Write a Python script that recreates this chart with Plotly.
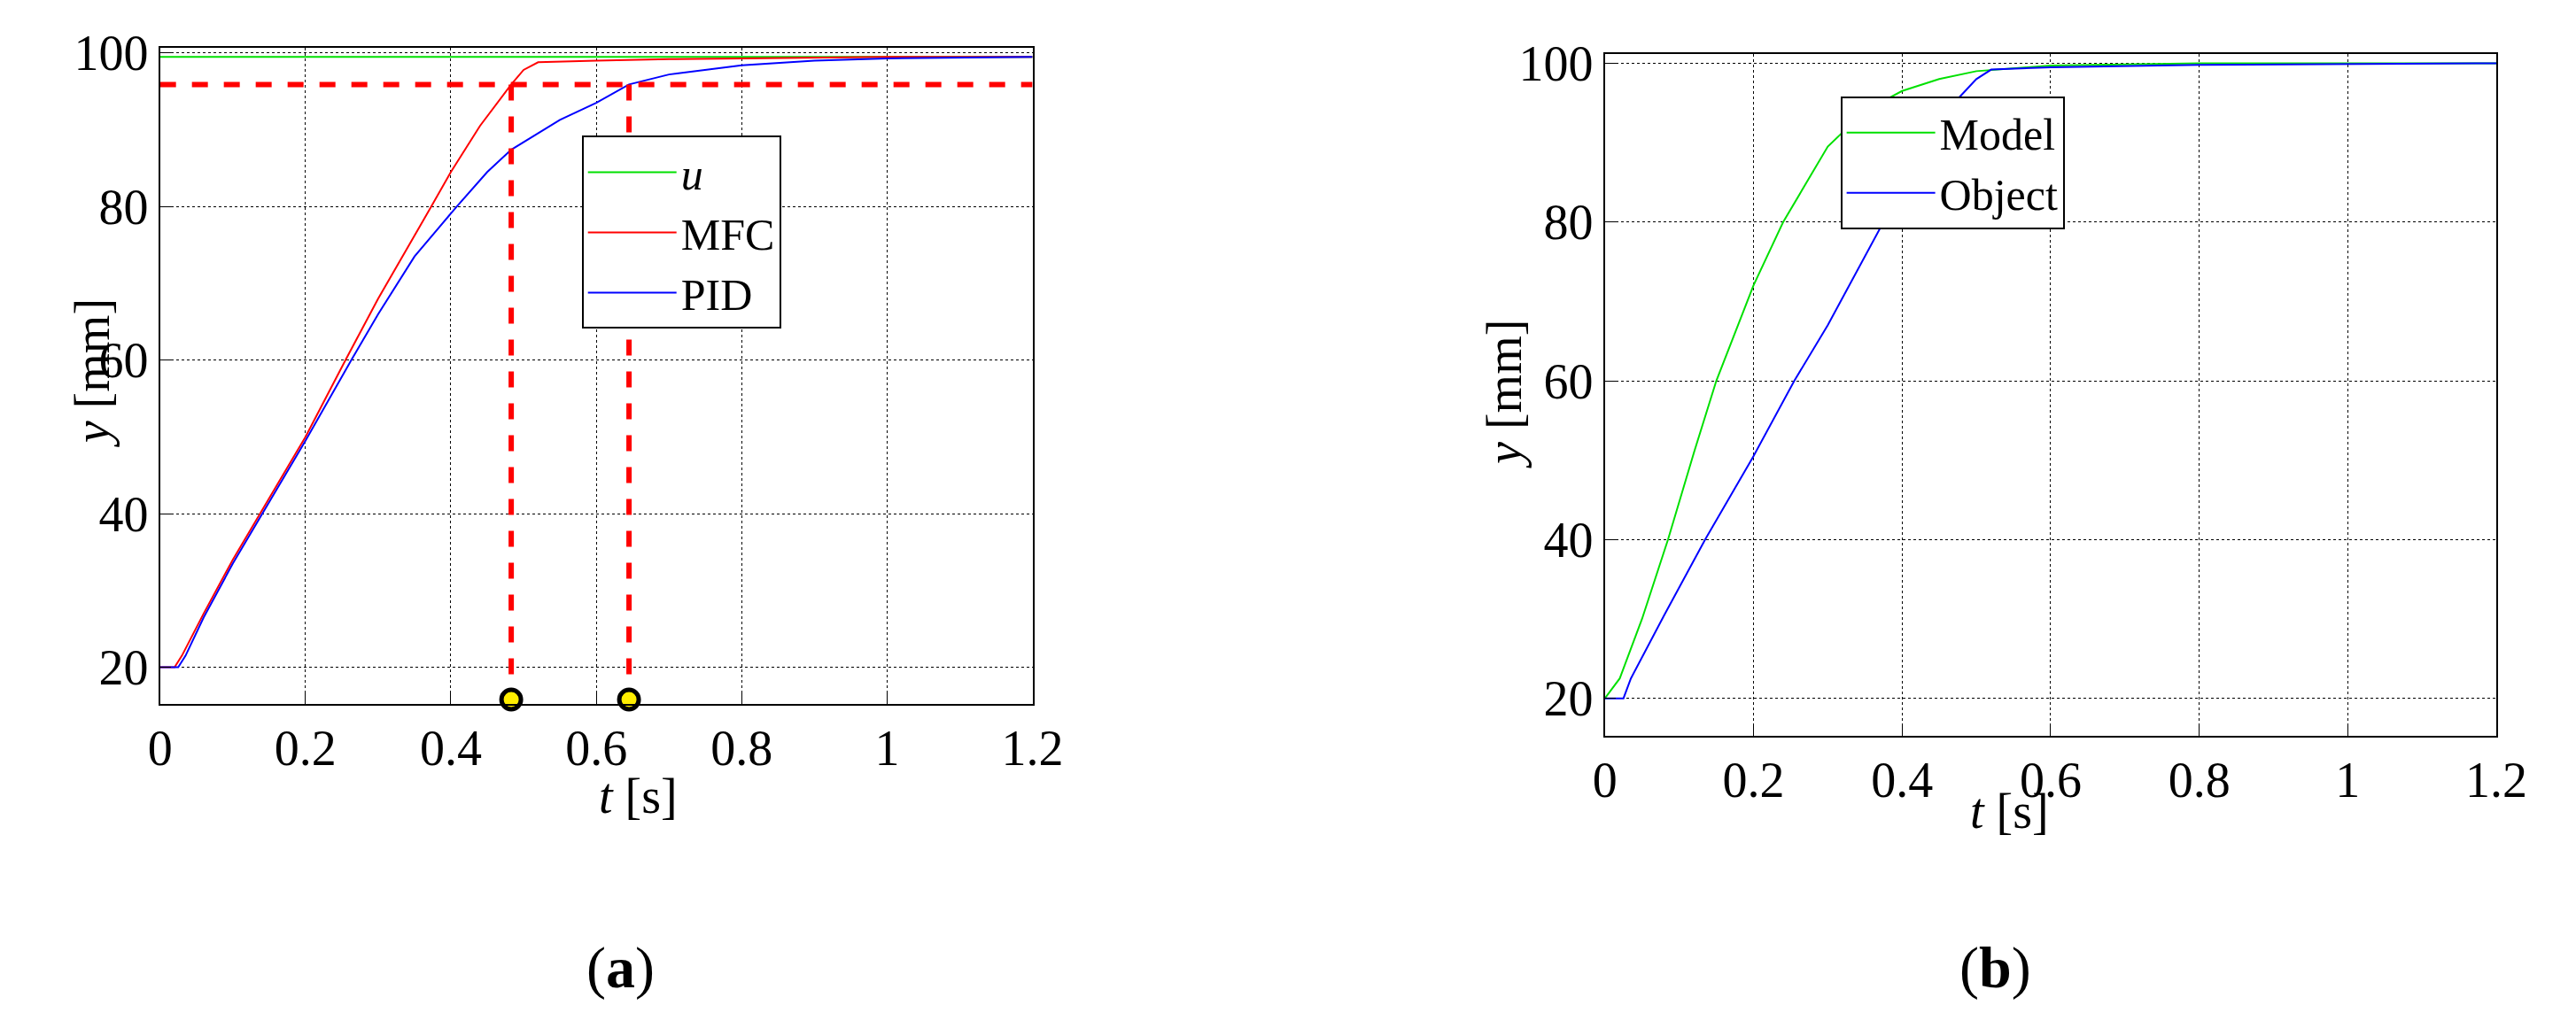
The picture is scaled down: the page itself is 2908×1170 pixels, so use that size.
import plotly.graph_objects as go

# Panel (a) data
t_u = [0.0, 1.2]
u_vals = [99.5, 99.5]
t_mfc = [0.0, 0.02, 0.03, 0.06, 0.1, 0.15, 0.2, 0.255, 0.3, 0.373, 0.4, 0.44, 0.483, 0.5, 0.52, 0.6, 0.7, 0.8, 1.0, 1.2]
y_mfc = [20, 20, 21.5, 27, 34, 42, 50, 60, 68, 80, 84.5, 90.5, 95.9, 97.8, 98.8, 99.0, 99.2, 99.3, 99.5, 99.5]
t_pid = [0.0, 0.025, 0.035, 0.06, 0.1, 0.15, 0.2, 0.263, 0.3, 0.35, 0.408, 0.45, 0.483, 0.55, 0.6, 0.645, 0.7, 0.8, 0.9, 1.0, 1.2]
y_pid = [20, 20, 21.5, 26.5, 33.5, 41.5, 49.5, 60, 66, 73.5, 80, 84.5, 87.4, 91.3, 93.5, 95.9, 97.2, 98.4, 99.0, 99.3, 99.5]
threshold = 95.9
t_marks = [0.483, 0.645]
mark_y = 15.8

# Panel (b) data
t_model = [0.0, 0.02, 0.05, 0.085, 0.12, 0.15, 0.2, 0.24, 0.3, 0.35, 0.4, 0.45, 0.5, 0.6, 0.8, 1.2]
y_model = [20, 22.5, 30, 40, 51, 60, 72, 80, 89.5, 94, 96.5, 98, 99, 99.7, 100, 100]
t_obj = [0.0, 0.025, 0.035, 0.08, 0.135, 0.2, 0.255, 0.3, 0.375, 0.42, 0.47, 0.5, 0.52, 0.6, 0.8, 1.2]
y_obj = [20, 20, 22.5, 30.5, 40, 50.5, 60, 67, 80, 87.5, 95, 98, 99.2, 99.5, 99.8, 100]

xticks = [0, 0.2, 0.4, 0.6, 0.8, 1.0, 1.2]
xtick_text = ["0", "0.2", "0.4", "0.6", "0.8", "1", "1.2"]
yticks = [20, 40, 60, 80, 100]

FONT = "Liberation Serif"
fig = go.Figure()

fig.add_trace(go.Scatter(x=t_u, y=u_vals, mode="lines", name="<i>u</i>",
                         line=dict(color="#00e000", width=2), xaxis="x", yaxis="y", legend="legend"))
fig.add_trace(go.Scatter(x=t_mfc, y=y_mfc, mode="lines", name="MFC",
                         line=dict(color="#ff0000", width=2), xaxis="x", yaxis="y", legend="legend"))
fig.add_trace(go.Scatter(x=t_pid, y=y_pid, mode="lines", name="PID",
                         line=dict(color="#0000ff", width=2), xaxis="x", yaxis="y", legend="legend"))
fig.add_trace(go.Scatter(x=[0, 1.2], y=[threshold, threshold], mode="lines", showlegend=False,
                         line=dict(color="#ff0000", width=6, dash="dash"), xaxis="x", yaxis="y"))
for tm in t_marks:
    fig.add_trace(go.Scatter(x=[tm, tm], y=[threshold, mark_y], mode="lines", showlegend=False,
                             line=dict(color="#ff0000", width=6, dash="dash"), xaxis="x", yaxis="y"))
fig.add_trace(go.Scatter(x=t_marks, y=[mark_y] * len(t_marks), mode="markers", showlegend=False,
                         marker=dict(color="#ffee00", size=22, line=dict(color="black", width=5)),
                         xaxis="x", yaxis="y", cliponaxis=False))

fig.add_trace(go.Scatter(x=t_model, y=y_model, mode="lines", name="Model",
                         line=dict(color="#00e000", width=2), xaxis="x2", yaxis="y2", legend="legend2"))
fig.add_trace(go.Scatter(x=t_obj, y=y_obj, mode="lines", name="Object",
                         line=dict(color="#0000ff", width=2), xaxis="x2", yaxis="y2", legend="legend2"))

axis_common = dict(showline=True, linecolor="black", linewidth=2, mirror=True,
                   ticks="inside", ticklen=12, tickcolor="black",
                   showgrid=True, gridcolor="black", griddash="dot", gridwidth=1.2,
                   zeroline=False, tickfont=dict(family=FONT, size=56, color="black"))

fig.update_layout(
    width=2908, height=1170, paper_bgcolor="white", plot_bgcolor="white",
    margin=dict(l=0, r=0, t=0, b=0),
    xaxis=dict(domain=[0.0555, 0.400], range=[0, 1.2], tickvals=xticks, ticktext=xtick_text,
               anchor="y", **axis_common),
    yaxis=dict(domain=[0.334, 0.981], range=[15.2, 100.7], tickvals=yticks, anchor="x", **axis_common),
    xaxis2=dict(domain=[0.626, 0.978], range=[0, 1.2], tickvals=xticks, ticktext=xtick_text,
                anchor="y2", **axis_common),
    yaxis2=dict(domain=[0.303, 0.975], range=[15.3, 101.2], tickvals=yticks, anchor="x2", **axis_common),
    legend=dict(x=0.222, y=0.894, xanchor="left", yanchor="top", bgcolor="white",
                bordercolor="black", borderwidth=2, font=dict(family=FONT, size=50, color="black"),
                tracegroupgap=0, itemwidth=100),
    legend2=dict(x=0.719, y=0.933, xanchor="left", yanchor="top", bgcolor="white",
                 bordercolor="black", borderwidth=2, font=dict(family=FONT, size=50, color="black"),
                 itemwidth=100),
    annotations=[
        dict(text="<i>y</i> [mm]", x=0.017, y=0.66, xref="paper", yref="paper", textangle=-90,
             showarrow=False, font=dict(family=FONT, size=56, color="black")),
        dict(text="<i>t</i> [s]", x=0.228, y=0.215, xref="paper", yref="paper",
             showarrow=False, font=dict(family=FONT, size=56, color="black")),
        dict(text="<i>y</i> [mm]", x=0.586, y=0.64, xref="paper", yref="paper", textangle=-90,
             showarrow=False, font=dict(family=FONT, size=56, color="black")),
        dict(text="<i>t</i> [s]", x=0.802, y=0.2, xref="paper", yref="paper",
             showarrow=False, font=dict(family=FONT, size=56, color="black")),
        dict(text="(<b>a</b>)", x=0.223, y=0.04, xref="paper", yref="paper",
             showarrow=False, font=dict(family=FONT, size=66, color="black")),
        dict(text="(<b>b</b>)", x=0.795, y=0.04, xref="paper", yref="paper",
             showarrow=False, font=dict(family=FONT, size=66, color="black")),
    ],
)

fig.write_html("out.html")
